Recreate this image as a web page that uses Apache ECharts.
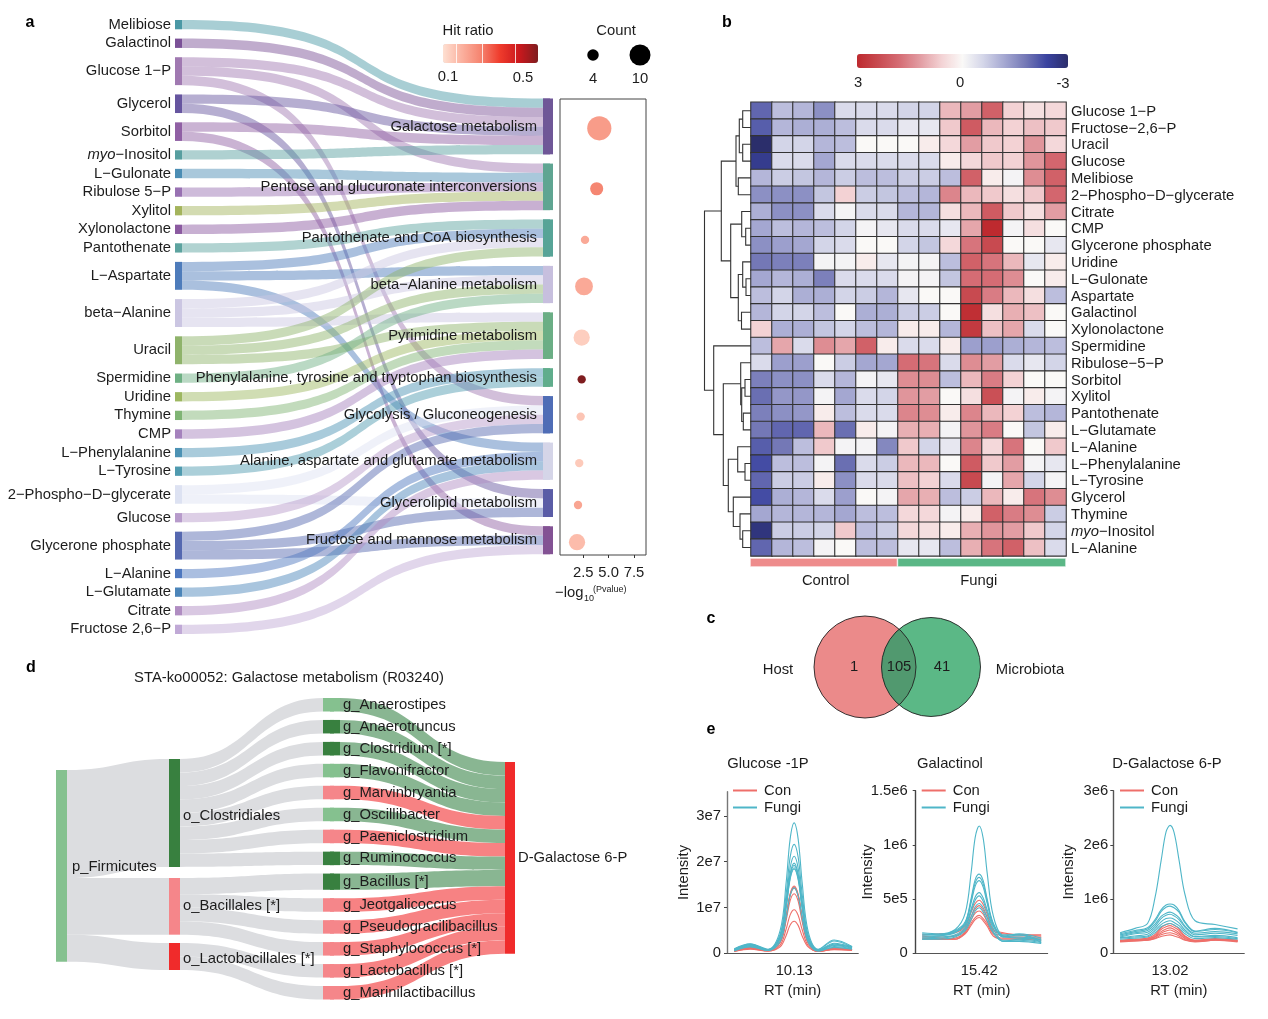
<!DOCTYPE html>
<html><head><meta charset="utf-8">
<style>html,body{margin:0;padding:0;background:#fff}#c{width:1268px;height:1019px}</style>
<script src="https://cdn.jsdelivr.net/npm/echarts@6/dist/echarts.min.js"></script>
</head><body><div id="c"></div>
<script>
// ---------- panel a: metabolite -> pathway ----------
const metabolites = ['Melibiose','Galactinol','Glucose 1−P','Glycerol','Sorbitol','myo−Inositol','L−Gulonate','Ribulose 5−P','Xylitol','Xylonolactone','Pantothenate','L−Aspartate','beta−Alanine','Uracil','Spermidine','Uridine','Thymine','CMP','L−Phenylalanine','L−Tyrosine','2−Phospho−D−glycerate','Glucose','Glycerone phosphate','L−Alanine','L−Glutamate','Citrate','Fructose 2,6−P'];
const metaboliteColors = ['#4A98A5','#7B5197','#A079B1','#66559F','#9060A4','#579E9F','#4B8DB4','#9871B2','#A4B45C','#8B5AA0','#5DA39F','#4E7CBB','#CBC6E2','#8FB36B','#6EB084','#9DB760','#7FB474','#A582BD','#4C92B4','#4F9AAF','#DDE2F2','#B79BCB','#5568B0','#4D77BF','#4B85B9','#B08DC2','#C0A9D6'];
const pathways = ['Galactose metabolism','Pentose and glucuronate interconversions','Pantothenate and CoA biosynthesis','beta−Alanine metabolism','Pyrimidine metabolism','Phenylalanine, tyrosine and tryptophan biosynthesis','Glycolysis / Gluconeogenesis','Alanine, aspartate and glutamate metabolism','Glycerolipid metabolism','Fructose and mannose metabolism'];
const pathwayColors = ['#6F5797','#5FA592','#57A497','#C7BFDE','#6BAE85','#60AD8C','#4F6DB6','#D5D5E8','#5A5CA6','#835294'];
const pathwayMembers = [
 ['Melibiose','Galactinol','Glucose 1−P','Glycerol','Sorbitol','myo−Inositol'],
 ['Glucose 1−P','L−Gulonate','Ribulose 5−P','Xylitol','Xylonolactone'],
 ['Pantothenate','L−Aspartate','beta−Alanine','Uracil'],
 ['L−Aspartate','beta−Alanine','Uracil','Spermidine'],
 ['beta−Alanine','Uracil','Uridine','Thymine','CMP'],
 ['L−Phenylalanine','L−Tyrosine'],
 ['Glucose 1−P','2−Phospho−D−glycerate','Glucose','Glycerone phosphate'],
 ['L−Aspartate','L−Alanine','L−Glutamate','Citrate'],
 ['Glycerol','2−Phospho−D−glycerate','Glycerone phosphate'],
 ['Sorbitol','Glycerone phosphate','Fructose 2,6−P']
];
const logP      = [4.08,3.82,2.67,2.57,2.34,2.34,2.24,2.10,1.98,1.88];
const hitRatio  = [0.22,0.27,0.19,0.19,0.11,0.58,0.13,0.12,0.20,0.15];
const pathCount = [12,5,2,8,7,2,2,2,2,7];
const countLegend = ['4','10'];

// ---------- panel b: heatmap ----------
const heatRows = ['Glucose 1−P','Fructose−2,6−P','Uracil','Glucose','Melibiose','2−Phospho−D−glycerate','Citrate','CMP','Glycerone phosphate','Uridine','L−Gulonate','Aspartate','Galactinol','Xylonolactone','Spermidine','Ribulose−5−P','Sorbitol','Xylitol','Pantothenate','L−Glutamate','L−Alanine','L−Phenylalanine','L−Tyrosine','Glycerol','Thymine','myo−Inositol','L−Alanine'];
const heatCols = ['C1','C2','C3','C4','C5','C6','C7','F1','F2','F3','F4','F5','F6','F7','F8'];
const heatValues = [
[-2,-0.9,-1,-1.5,-0.5,-0.5,-0.5,-0.6,-0.6,0.9,1.2,2.0,0.6,0.4,0.5],
[-2.1,-1,-1.1,-1.1,-0.9,-0.5,-0.5,-0.3,-0.3,0.7,2.1,0.9,0.6,0.8,0.7],
[-3,-0.6,-0.6,-1,-0.9,0,0,0,0.2,0.5,1.2,0.7,0.6,1.3,0.5],
[-2.6,-0.5,-0.5,-1.2,-0.5,-0.5,-0.5,-0.5,-0.5,0.2,0.5,0.7,0.6,1.3,1.9],
[-1,-0.7,-0.8,-1,-0.7,-0.9,-0.9,-0.7,-0.7,-0.9,2.0,0.2,-0.1,1.4,2.0],
[-1.5,-1.5,-1.5,-0.8,0.6,-0.7,-0.8,-0.9,-1.0,1.5,0.9,0.7,0.4,0.7,1.9],
[-1.1,-1.5,-1.5,-0.5,-0.1,-0.5,-0.5,-1,-1,0.4,0.9,2.1,0.7,0.4,1.2],
[-1.2,-0.9,-1,-0.9,-0.6,-0.1,-0.3,-0.5,-0.5,-0.3,1.1,3,-0.1,0.4,0],
[-1.5,-1.3,-1.2,-0.6,-0.5,0,0,-0.6,-0.8,0.5,1.7,2.4,0,0,-0.3],
[-1.8,-1.7,-1.7,-0.1,-0.1,0.2,-0.3,-0.1,-0.1,-0.9,2.0,1.7,0.9,-0.3,0.2],
[-1.2,-1,-1.1,-1.7,-0.5,-0.5,-0.5,-0.1,-0.1,-0.8,1.8,1.8,1.4,0,0.2],
[-0.9,-0.6,-1.1,-1.1,-0.6,-0.7,-1,-0.3,0,0,2.4,1.6,0.9,0.4,-0.9],
[-1,-0.6,-0.6,-0.9,0,-1.1,-1.1,-0.7,-0.7,0,2.9,0.4,1,0.8,0],
[0.6,-1.1,-1.1,-0.8,-0.6,-0.9,-1,0.2,0.2,-1,2.7,0.8,1.1,-0.5,0],
[-0.9,1.1,-0.5,1.4,1.1,2,0.2,-0.5,-0.5,0.2,-1.3,-1.3,-1.1,-1,-0.9],
[-0.5,-1.3,-1.3,0,-0.7,-1.2,-1.2,1.8,1.7,-0.5,1.4,1.2,-0.5,-0.3,-0.6],
[-1.7,-1.5,-1.5,-0.5,-1,-0.1,-0.3,1.4,1.4,-0.9,0.9,1.6,0.6,0,0],
[-1.9,-1.4,-1.4,-0.1,-1.2,-0.5,-0.6,1.3,1.2,0,0.4,2.3,-0.1,0.2,-0.1],
[-1.7,-1.5,-1.4,0.2,-0.9,-0.5,-0.5,1.5,1.4,0.2,1.5,0.9,0.6,-0.9,-1],
[-1.8,-2,-2,0.9,-1.9,0.2,-0.1,1,1,-0.1,1.3,1.6,0,-0.8,0.2],
[-2.1,-1.8,-0.9,0.7,-0.1,-0.1,-1.6,0.7,-0.6,-0.3,1.5,0.5,1.7,0,0.7],
[-2.3,-0.9,-0.9,-0.1,-1.9,-0.5,-0.7,0.9,0.9,0,2.1,0.7,1.2,-0.1,-0.3],
[-2,-0.7,-0.7,0.2,-1.5,-0.5,-0.5,0.8,0.6,-0.5,2.4,-0.1,1.1,-0.6,-0.1],
[-2.3,-1.1,-1,-0.5,-1.3,0,-0.1,1.1,1,-0.9,-0.7,0.9,0.2,1.7,1.4],
[-1.2,-1,-1,-1,-1.2,-0.9,-0.9,0.5,0.5,-0.1,0.2,2,1.6,1.4,-0.7],
[-2.8,-0.7,-0.7,-0.6,0.7,-0.9,-0.7,0.5,0.4,0.2,1.0,1.3,1.2,0.7,-0.6],
[-2,-1,-0.9,-0.1,0,-0.9,-0.9,-0.3,-0.3,-0.9,1.0,1.7,2,0.8,-0.5]
];
const groupNames = ['Control','Fungi'];
const groupSizes = [7,8];
// dendrogram: [merge height, child, child]; a bare number is a row index
const rowTree = [46.5,
 [29.7,
  [15,[11.7,[8.3,0,1],[8.3,2,3]],[12.7,4,5]],
  [20.3,[9.3,6,[5.3,7,8]],[12.7,[8.3,9,[5,10,11]],[9.5,12,13]]]],
 [37.3,14,
  [27.7,
   [10.3,15,[9.3,[6,16,17],[7.7,18,19]]],
   [22.7,[13.3,20,[6,21,22]],[17.7,23,[11,24,[8.3,25,26]]]]]]
];

// ---------- panel c ----------
const vennCounts = ['1','105','41'];
const vennNames = ['Host','Microbiota'];

// ---------- panel d ----------
const orders = ['o_Clostridiales','o_Bacillales [*]','o_Lactobacillales [*]'];
const orderColors = ['#38803F','#F5868A','#F02B2B'];
const genera = ['g_Anaerostipes','g_Anaerotruncus','g_Clostridium [*]','g_Flavonifractor','g_Marvinbryantia','g_Oscillibacter','g_Paeniclostridium','g_Ruminococcus','g_Bacillus [*]','g_Jeotgalicoccus','g_Pseudogracilibacillus','g_Staphylococcus [*]','g_Lactobacillus [*]','g_Marinilactibacillus'];
const genusValues = [1,1,1,1,1,1,1,1,1.2,1,1,1,1,1];
const genusOrder  = [0,0,0,0,0,0,0,0,1,1,1,1,2,2];
const genusColors = ['#85C18F','#38803F','#38803F','#85C18F','#F5868A','#85C18F','#F5868A','#38803F','#38803F','#F5868A','#F5868A','#F5868A','#F5868A','#F5868A'];
const genusFlow   = ['#89B692','#89B692','#89B692','#89B692','#F78283','#89B692','#F78283','#89B692','#89B692','#F78283','#F78283','#F78283','#F78283','#F78283'];

// ---------- panel e: chromatogram traces ----------
const rtA = [9.89,9.954,10.026,10.074,10.098,10.114,10.13,10.146,10.162,10.186,10.226,10.29,10.362];
const conA = [
[0.6,1.3,0.6,2.6,8.1,13,14.7,12.9,8,2.5,0.5,1.1,0.9],
[0.5,1.2,0.5,2.6,8,12.8,14.5,12.7,7.8,2.4,0.5,1,0.8],
[0.6,1.1,0.6,2.3,7.2,11.5,13,11.4,7,2.2,0.4,0.9,0.8],
[0.4,1,0.5,1.8,5.3,8.4,9.5,8.3,5.2,1.7,0.4,0.9,0.7],
[0.4,0.9,0.5,1.4,3.9,6.2,7,6.1,3.8,1.4,0.4,0.8,0.6],
[0.5,1.1,0.6,2.5,7.9,12.6,14.2,12.5,7.7,2.4,0.5,1,0.8]];
const fungiA = [
[1.0,2.1,0.9,5.0,15.5,25,28.5,25,15.5,4.8,0.9,2.9,1.5],
[0.8,1.9,0.8,4.2,13,21,23.8,21,13,4,0.8,2.7,1.3],
[0.9,1.8,0.7,3.8,11.6,18.7,21.2,18.6,11.5,3.6,0.7,2.2,1.4],
[0.7,1.7,0.8,3.5,10.8,17.4,19.7,17.3,10.7,3.3,0.6,2,1.2],
[0.8,2,0.7,3.4,10.5,17,19.2,16.9,10.4,3.2,0.7,1.8,1.3],
[0.6,1.6,0.6,3.3,10.2,16.5,18.7,16.4,10.1,3.1,0.6,1.7,1.1],
[0.7,1.5,0.7,3.2,10,16.2,18.4,16.1,9.9,3,0.5,1.5,1],
[0.5,1.4,0.6,2.5,7.8,12.6,14.3,12.5,7.7,2.4,0.5,1.3,0.9]];
const rtB = [15.192,15.26,15.324,15.364,15.388,15.404,15.42,15.436,15.452,15.476,15.516,15.58,15.668];
const conB = [
[1.7,1.8,1.9,2.5,3.8,4.6,4.9,4.5,3.6,2.2,1.9,1.7,1.7],
[1.5,1.5,1.6,2.3,3.4,4.1,4.4,4,3.3,2.1,1.8,1.7,1.6],
[1.4,1.3,1.4,2,3.1,3.7,3.9,3.6,2.9,1.9,1.6,1.5,1.5],
[1.6,1.4,1.3,1.9,2.8,3.3,3.5,3.2,2.7,1.8,1.4,1.4,1.4],
[1.3,1.3,1.3,1.8,2.6,3.1,3.3,3,2.5,1.6,1.3,1.3,1.2]];
const fungiB = [
[1.9,1.8,2.2,3.7,7.5,10.7,11.75,10.6,7.4,3.5,1.7,1.7,1.2],
[1.7,1.7,2.1,2.9,5.1,6.8,7.3,6.7,5,2.8,1.6,1.8,1.4],
[1.6,1.6,2.0,2.8,4.9,6.5,7.0,6.4,4.8,2.7,1.5,1.5,1.2],
[1.5,1.6,1.9,2.7,4.7,6.2,6.7,6.1,4.6,2.6,1.5,1.7,1.0],
[1.8,1.7,2.0,2.6,4.1,5.2,5.6,5.1,4,2.5,1.6,1.4,1.3],
[1.4,1.5,1.7,2.4,3.9,4.9,5.3,4.8,3.8,2.3,1.2,1.2,1.0],
[1.3,1.4,1.6,2.2,3.4,4.3,4.6,4.2,3.3,2,1.1,1.1,0.9],
[1.3,1.3,1.5,2.1,3.1,3.9,4.2,3.8,3,1.9,1.1,1.3,1.1]];
const rtC = [12.82,12.88,12.93,12.96,12.984,13.004,13.02,13.036,13.056,13.08,13.12,13.2,13.29];
const conC = [
[2.4,2.6,2.8,3.5,4.7,5.3,5.5,5.2,4.5,3.2,2.4,2.7,2.4],
[2.3,2.5,2.7,3.3,4.4,4.9,5.1,4.8,4.2,3,2.4,2.6,2.3],
[2.2,2.4,2.6,3.1,4,4.5,4.7,4.4,3.8,2.8,2.3,2.6,2.4],
[2.3,2.5,2.5,3,3.7,4.1,4.3,4,3.5,2.7,2.3,2.5,2.3],
[2.2,2.3,2.4,2.8,3.4,3.7,3.8,3.6,3.2,2.5,2.2,2.4,2.2],
[2.1,2.3,2.4,2.7,3.1,3.3,3.4,3.2,2.9,2.4,2.1,2.4,2.1]];
const fungiC = [
[3.8,4.6,5.5,10.3,17,22.4,23.6,22.3,17.2,10.8,6,5.3,4.5],
[3.6,4.2,4.7,6.2,8,8.9,9.1,8.9,7.9,5.8,4.1,4.6,3.9],
[3.4,4,4.5,5.9,7.7,8.5,8.7,8.4,7.6,5.6,4,4.4,3.8],
[3.2,3.8,4.2,5.4,6.8,7.4,7.6,7.3,6.6,5,3.7,4,3.6],
[3,3.6,3.9,5,6.4,7,7.2,6.9,6.2,4.8,3.4,3.7,3.3],
[2.9,3.2,3.5,4.6,5.8,6.4,6.5,6.3,5.6,4.3,3.1,3.3,2.9],
[2.8,3,3.2,4.2,5.3,5.8,6,5.7,5.1,4,3,3.1,2.7],
[2.6,2.8,3,3.8,4.9,5.3,5.5,5.2,4.7,3.6,2.7,2.9,2.6]];

// ---------- layout / style ----------
const FONT = 'Liberation Sans', FS = 14.8, INK = '#1c1c1c';
const UNIT_A = 9.3;
const A = {left:175, top:20, width:377, height:614, barX:368, rightTop:98.5};
const BUB = {left:560, top:99, width:86, height:456};
const HM = {left:751, top:102.3, width:315, height:453.6};
const D = {top:698, height:301.5, gap:8.45, p:56, o:169, g:323, aw:278, bl:330, bw:185, dgalX:175};
const dY = {p:770, o:[759,878,943], dgal:762};

const series = [], grid = [], xAxis = [], yAxis = [];
const addGrid = (g, x, y) => { grid.push(g); x.gridIndex = y.gridIndex = grid.length-1; xAxis.push(x); yAxis.push(y); return grid.length-1; };
const hiddenVal = (min,max,inverse) => ({type:'value',min,max,inverse:!!inverse,show:false});
const baseText = {fontFamily:FONT,fontSize:FS,color:INK};

// ---- a: sankey
const sizes = pathwayMembers.map(m=>m.length);
const cum = []; sizes.reduce((s,n,i)=>{cum[i]=s+i;return s+n;},0);
const aNodes = metabolites.map((n,i)=>{
  const it = {name:n,itemStyle:{color:metaboliteColors[i]},label:{position:'left',distance:4}};
  if(n.startsWith('myo')){ it.label.formatter='{i|myo}−Inositol'; it.label.rich={i:{fontStyle:'italic',fontFamily:FONT,fontSize:FS,color:INK}}; }
  return it;
}).concat(pathways.map((p,i)=>({name:p,itemStyle:{color:pathwayColors[i]},localX:A.barX/A.width,localY:(A.rightTop-A.top+cum[i]*UNIT_A)/A.height,label:{position:'left',distance:6}})));
const aLinks = [];
metabolites.forEach(m=>pathwayMembers.forEach((mem,i)=>{ if(mem.includes(m)) aLinks.push({source:m,target:pathways[i],value:1}); }));
series.push({type:'sankey',left:A.left,top:A.top,width:A.width,height:A.height,nodeWidth:7,nodeGap:UNIT_A,layoutIterations:0,draggable:false,
  emphasis:{disabled:true},label:{...baseText,show:true},itemStyle:{borderWidth:0},lineStyle:{color:'source',opacity:0.48,curveness:0.65},data:aNodes,links:aLinks,animation:false,silent:true});
// wider pathway bars
const overH = (sizes.reduce((s,v)=>s+v,0)+sizes.length-1)*UNIT_A;
series.push({type:'sankey',left:A.left,top:A.rightTop,width:A.width,height:overH,nodeWidth:10,nodeGap:UNIT_A,layoutIterations:0,draggable:false,
  emphasis:{disabled:true},label:{show:false},itemStyle:{borderWidth:0},
  data:pathways.map((p,i)=>({name:p,value:sizes[i],itemStyle:{color:pathwayColors[i]},localX:A.barX/A.width,localY:cum[i]*UNIT_A/overH})),links:[],animation:false,silent:true});

// ---- a: bubbles
addGrid({left:BUB.left,top:BUB.top,width:BUB.width,height:BUB.height,show:true,borderColor:'#444',borderWidth:1},
  {type:'value',min:0.2,max:8.69,position:'bottom',splitLine:{show:false},axisLine:{show:false,onZero:false},
   axisTick:{show:true,length:3,customValues:[2.5,5,7.5],lineStyle:{color:'#333'}},
   axisLabel:{...baseText,margin:10,customValues:[2.5,5,7.5],formatter:v=>v.toFixed(1)}},
  hiddenVal(-0.15,BUB.height/UNIT_A-0.15,true));
const bubbleIdx = series.length;
series.push({type:'scatter',xAxisIndex:grid.length-1,yAxisIndex:grid.length-1,silent:true,
  data:pathways.map((p,i)=>[logP[i],cum[i]+sizes[i]/2,hitRatio[i],pathCount[i]]),
  symbolSize:d=>1.58*d[3]+5.2,itemStyle:{opacity:1}});
// count legend
addGrid({left:569.5,top:40,width:94,height:30},
  {type:'category',data:countLegend,axisLine:{show:false},axisTick:{show:false},axisLabel:{...baseText,margin:1}},
  hiddenVal(0,2));
series.push({type:'scatter',xAxisIndex:grid.length-1,yAxisIndex:grid.length-1,silent:true,
  data:countLegend.map(c=>[c,1.0,+c]),symbolSize:d=>1.58*d[2]+5.2,itemStyle:{color:'#000',opacity:1}});

// ---- b: heatmap
addGrid({left:HM.left,top:HM.top,width:HM.width,height:HM.height},
  {type:'category',data:heatCols,show:false},
  {type:'category',data:heatRows,inverse:true,position:'right',axisLine:{show:false},axisTick:{show:false},
   axisLabel:{...baseText,margin:5,interval:0,padding:[2,0,0,0],rich:{i:{fontStyle:'italic',fontFamily:FONT,fontSize:FS,color:INK}},
     formatter:v=>v.startsWith('myo')?'{i|myo}'+v.slice(3):v}});
const heatIdx = series.length;
series.push({type:'heatmap',xAxisIndex:grid.length-1,yAxisIndex:grid.length-1,silent:true,
  data:heatValues.flatMap((r,ri)=>r.map((v,ci)=>[ci,ri,v])),
  itemStyle:{borderColor:'#333',borderWidth:1.1}});
// dendrogram
const merges=[];
(function walk(n){ if(typeof n==='number') return {h:0,y:n};
  const a=walk(n[1]),b=walk(n[2]); merges.push([n[0],a.h,b.h,a.y,b.y]); return {h:n[0],y:(a.y+b.y)/2}; })(rowTree);
addGrid({left:704,top:HM.top,width:47,height:HM.height},hiddenVal(0,47,true),hiddenVal(-0.5,26.5,true));
series.push({type:'custom',xAxisIndex:grid.length-1,yAxisIndex:grid.length-1,silent:true,clip:false,data:merges,
  renderItem:(p,api)=>{const h=api.value(0),a=api.value(1),b=api.value(2),y1=api.value(3),y2=api.value(4);
    return {type:'polyline',shape:{points:[api.coord([a,y1]),api.coord([h,y1]),api.coord([h,y2]),api.coord([b,y2])]},style:{fill:null,stroke:'#333',lineWidth:1.1}};}});
// group annotation bar
addGrid({left:HM.left-1,top:558,width:HM.width+1,height:9},hiddenVal(0,15),{type:'category',data:['group'],show:false});
['#EE8C8C','#5BB786'].forEach((c,i)=>series.push({type:'bar',name:'group '+groupNames[i],stack:'g',xAxisIndex:grid.length-1,yAxisIndex:grid.length-1,silent:true,barWidth:9,
  data:[groupSizes[i]],itemStyle:{color:c,borderColor:'#fff',borderWidth:0.6},
  label:{...baseText,show:true,position:'bottom',distance:6,offset:[[2,0],[-3,0]][i],formatter:groupNames[i]}}));

// ---- c: venn
addGrid({left:800,top:600,width:200,height:130},hiddenVal(0,200),hiddenVal(0,130,true));
const vennC=[[65,67,51],[131,67,49.5]];
function lens(a,b){const d=b[0]-a[0],x0=(d*d+a[2]*a[2]-b[2]*b[2])/(2*d),h=Math.sqrt(a[2]*a[2]-x0*x0),pts=[];
  const ta=Math.atan2(h,x0),tb=Math.atan2(h,x0-d);
  for(let i=0;i<=40;i++){const t=-ta+2*ta*i/40;pts.push([a[0]+a[2]*Math.cos(t),a[1]+a[2]*Math.sin(t)]);}
  for(let i=0;i<=40;i++){const t=tb+(2*Math.PI-2*tb)*i/40;pts.push([b[0]+b[2]*Math.cos(t),b[1]+b[2]*Math.sin(t)]);}
  return pts;}
const lensPts=lens(vennC[0],vennC[1]);
series.push({type:'custom',xAxisIndex:grid.length-1,yAxisIndex:grid.length-1,silent:true,clip:false,data:[[0]],
  renderItem:(p,api)=>{const s=api.coord([1,0])[0]-api.coord([0,0])[0];
    const circ=(c,fill)=>{const q=api.coord([c[0],c[1]]);return {type:'circle',shape:{cx:q[0],cy:q[1],r:c[2]*s},style:{fill,stroke:null}};};
    const ring=c=>{const q=api.coord([c[0],c[1]]);return {type:'circle',shape:{cx:q[0],cy:q[1],r:c[2]*s},style:{fill:null,stroke:'#222',lineWidth:0.9}};};
    return {type:'group',children:[circ(vennC[0],'#EB8A8A'),circ(vennC[1],'#5BB886'),
      {type:'polygon',shape:{points:lensPts.map(q=>api.coord(q))},style:{fill:'#51996F'}},ring(vennC[0]),ring(vennC[1])]};}});

// ---- d: sankey (two parts)
const gNodesA = genera.map((g,i)=>({name:g,itemStyle:{color:genusColors[i]},localX:(D.g-D.p)/D.aw,label:{show:false}}));
const oNodes = orders.map((o,i)=>({name:o,itemStyle:{color:orderColors[i]},localX:(D.o-D.p)/D.aw,localY:(dY.o[i]-D.top)/D.height,label:{show:true,position:'right',distance:3,offset:[0,[3,0,2][i]]}}));
series.push({type:'sankey',left:D.p,top:D.top,width:D.aw,height:D.height,nodeWidth:11,nodeGap:D.gap,layoutIterations:0,draggable:false,silent:true,
  emphasis:{disabled:true},label:{...baseText},itemStyle:{borderWidth:0},lineStyle:{color:'#DCDDE0',opacity:1,curveness:0.5},animation:false,
  data:[{name:'p_Firmicutes',itemStyle:{color:'#85C18F'},localX:0,localY:(dY.p-D.top)/D.height,label:{show:true,position:'right',distance:5,offset:[0,1]}}].concat(oNodes,gNodesA),
  links:orders.map((o,i)=>({source:'p_Firmicutes',target:o,value:genusValues.reduce((s,v,k)=>genusOrder[k]===i?s+v:s,0)}))
    .concat(genera.map((g,i)=>({source:orders[genusOrder[i]],target:g,value:genusValues[i]})))});
series.push({type:'sankey',left:D.bl,top:D.top,width:D.bw,height:D.height,nodeWidth:10,nodeGap:D.gap,layoutIterations:0,draggable:false,silent:true,
  emphasis:{disabled:true},label:{...baseText,show:true,position:'right',distance:3},itemStyle:{borderWidth:0},lineStyle:{opacity:1,curveness:0.5},animation:false,
  data:genera.map((g,i)=>({name:g,itemStyle:{color:genusColors[i]},localX:0})).concat([{name:'D-Galactose 6-P',itemStyle:{color:'#F02B2B'},localX:D.dgalX/D.bw,localY:(dY.dgal-D.top)/D.height}]),
  links:genera.map((g,i)=>({source:g,target:'D-Galactose 6-P',value:genusValues[i],lineStyle:{color:genusFlow[i]}}))});

// ---- e: chromatograms
function chrom(g,xr,yr,ticks,fmt,rt,con,fungi,tick,axisCol){
  addGrid({left:g[0],top:g[1],width:g[2],height:g[3]},
   {type:'value',min:xr[0],max:xr[1],splitLine:{show:false},axisLine:{show:true,onZero:false,lineStyle:{color:'#555',width:1}},axisTick:{show:false},
    name:'RT (min)',nameLocation:'middle',nameGap:30,nameTextStyle:baseText,
    axisLabel:{...baseText,margin:10,customValues:[tick],formatter:v=>v.toFixed(2)}},
   {type:'value',min:yr[0],max:yr[1],splitLine:{show:false},axisLine:{show:true,lineStyle:{color:axisCol,width:1.4}},
    axisTick:{show:true,length:3,customValues:ticks,lineStyle:{color:'#444'}},
    name:'Intensity',nameLocation:'middle',nameGap:g[4],nameMoveOverlap:false,nameTextStyle:baseText,
    axisLabel:{...baseText,margin:g[5],customValues:ticks,formatter:v=>fmt[v]}});
  const idx=grid.length-1;
  const add=(rows,name,color)=>rows.forEach(r=>series.push({type:'line',name,xAxisIndex:idx,yAxisIndex:idx,silent:true,showSymbol:false,symbol:'none',smooth:0.35,
     data:r.map((v,i)=>[rt[i],v]),lineStyle:{color,width:1.1},itemStyle:{color},animation:false}));
  add(con,'Con','#EE6F6A'); add(fungi,'Fungi','#4FB6C8');
}
chrom([727,791.7,131.3,161.6,36,6],[9.861,10.387],[0,35.3],[0,10,20,30],{0:'0',10:'1e7',20:'2e7',30:'3e7'},rtA,conA,fungiA,10.13,'#777');
chrom([915.7,790.7,132,162.6,40,8],[15.166,15.694],[0,15],[0,5,10,15],{0:'0',5:'5e5',10:'1e6',15:'1.5e6'},rtB,conB,fungiB,15.42,'#444');
chrom([1113.3,790.7,131,162.6,37,5],[12.793,13.317],[0,30],[0,10,20,30],{0:'0',10:'1e6',20:'2e6',30:'3e6'},rtC,conC,fungiC,13.02,'#555');
const legends=[733,921.7,1120].map(x=>({left:x,top:783,orient:'vertical',data:['Con','Fungi'],selectedMode:false,icon:'rect',itemWidth:24,itemHeight:2,itemGap:2,padding:0,
  textStyle:{...baseText,padding:[0,0,0,2]}}));

// ---- text
const T=(text,x,y,o={})=>({type:'text',x,y:y+0.7,z:100,silent:true,style:{text,fontFamily:FONT,fontSize:FS,fill:INK,align:'center',verticalAlign:'middle',...o}});
const graphic=[
 T('a',30,22,{fontWeight:'bold',fontSize:16,fill:'#000'}),T('b',727,22,{fontWeight:'bold',fontSize:16,fill:'#000'}),
 T('c',711,618,{fontWeight:'bold',fontSize:16,fill:'#000'}),T('d',31,667,{fontWeight:'bold',fontSize:16,fill:'#000'}),T('e',711,729,{fontWeight:'bold',fontSize:16,fill:'#000'}),
 T('Hit ratio',468,30),T('Count',616,30),T('0.1',448,76),T('0.5',523,77),
 T('−log',555,592,{align:'left'}),T('10',584,598,{align:'left',fontSize:9}),T('(Pvalue)',593,589,{align:'left',fontSize:9}),
 T('3',858,82),T('0',960,82),T('-3',1063,83),
 T(vennNames[0],778,669),T(vennNames[1],1030,669),T(vennCounts[0],854,666),T(vennCounts[1],899,666),T(vennCounts[2],942,666),
 T('STA-ko00052: Galactose metabolism (R03240)',289,677),
 T('Glucose -1P',768,763),T('Galactinol',950,763),T('D-Galactose 6-P',1167,763)
];
[456,482,515].forEach(x=>graphic.push({type:'rect',silent:true,z:50,shape:{x,y:44,width:0.8,height:19},style:{fill:'#fff'}}));

const visualMap=[
 {type:'continuous',seriesIndex:heatIdx,dimension:2,min:-3,max:3,orient:'horizontal',inverse:true,left:857,top:54,itemWidth:14,itemHeight:211,padding:0,calculable:false,hoverLink:false,text:null,showLabel:false,
  inRange:{color:['#2B2E6B','#3A43A0','#7478B6','#A4A7D1','#D3D5E8','#FAF9F7','#F3D2D4','#E29DA3','#D56C74','#C84A50','#BE2A2F']},textStyle:{fontSize:0}},
 {type:'continuous',seriesIndex:bubbleIdx,dimension:2,min:0.073,max:0.58,orient:'horizontal',left:443,top:44,itemWidth:19,itemHeight:95,padding:0,calculable:false,hoverLink:false,text:null,
  inRange:{color:['#FEE0D2','#FBB09E','#F5836F','#EF3B2C','#CB181D','#7F1D1F']},textStyle:{fontSize:0}}
];
const chart=echarts.init(document.getElementById('c'),null,{renderer:'canvas'});
chart.setOption({animation:false,backgroundColor:'#fff',textStyle:{fontFamily:FONT},grid,xAxis,yAxis,series,visualMap,legend:legends,graphic,tooltip:{show:false}});
</script></body></html>
